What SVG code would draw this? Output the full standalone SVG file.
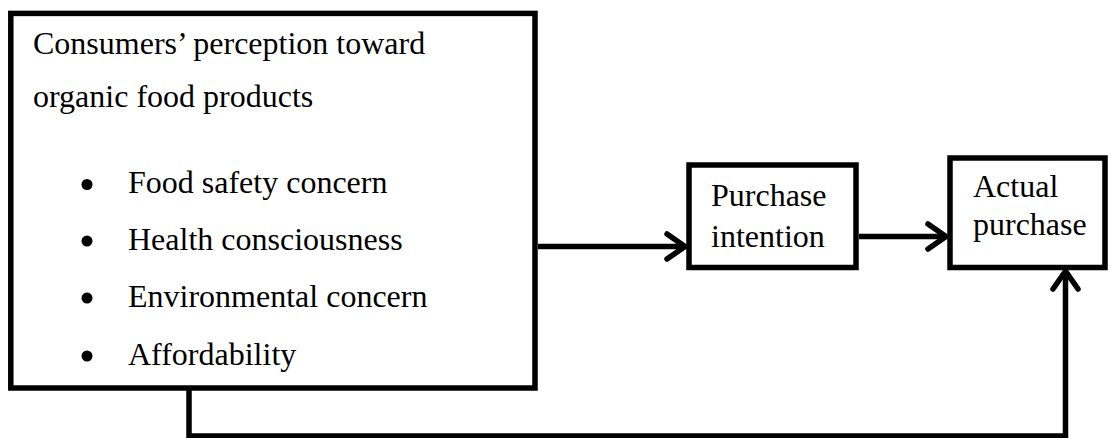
<svg xmlns="http://www.w3.org/2000/svg" width="1111" height="438" viewBox="0 0 1111 438">
<style>
.box{fill:#fff;stroke:#000;stroke-width:5.5}
.t{font-family:"Liberation Serif","Times New Roman",serif;font-size:32px;fill:#000}
.c{fill:none;stroke:#000;stroke-width:5.5}
.ah{fill:none;stroke:#000;stroke-width:5.5;stroke-linecap:round;stroke-linejoin:round}
</style>
<rect width="1111" height="438" fill="#fff"/>
<g id="connectors">
<line class="c" x1="538" y1="246.5" x2="684" y2="246.5"/>
<polyline class="ah" points="667,234 685,246.5 667,259"/>
<line class="c" x1="859" y1="236.5" x2="945" y2="236.5"/>
<polyline class="ah" points="928,224 946,236.5 928,249"/>
<polyline class="c" points="189,390 189,436 1065.5,436 1065.5,273"/>
<polyline class="ah" points="1053,289 1065.5,271 1078,289"/>
</g>
<g id="perception">
<rect class="box" x="10.8" y="13.4" width="524.2" height="374.6"/>
<text class="t" x="33" y="54">Consumers’ perception toward</text>
<text class="t" x="33" y="107">organic food products</text>
<circle cx="87" cy="184.5" r="5.5"/>
<text class="t" x="128" y="193">Food safety concern</text>
<circle cx="87" cy="241" r="5.5"/>
<text class="t" x="128" y="249.5">Health consciousness</text>
<circle cx="87" cy="298" r="5.5"/>
<text class="t" x="128" y="306.5">Environmental concern</text>
<circle cx="87" cy="356" r="5.5"/>
<text class="t" x="128" y="364.5">Affordability</text>
</g>
<g id="intention">
<rect class="box" x="689" y="165" width="167" height="102.5"/>
<text class="t" x="711" y="206">Purchase</text>
<text class="t" x="711" y="247">intention</text>
</g>
<g id="actual">
<rect class="box" x="950" y="158" width="155" height="109.5"/>
<text class="t" x="973" y="197">Actual</text>
<text class="t" x="973" y="235">purchase</text>
</g>
</svg>
